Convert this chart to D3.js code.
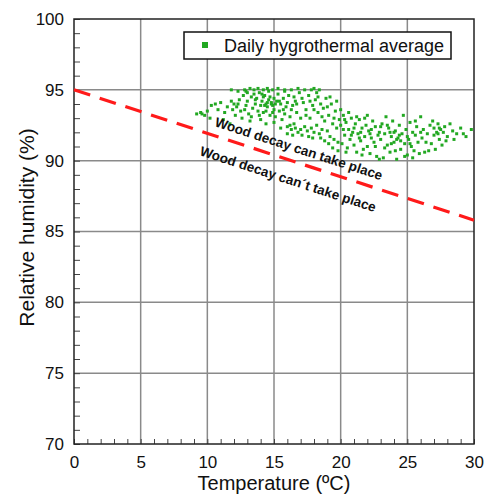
<!DOCTYPE html>
<html>
<head>
<meta charset="utf-8">
<script src="https://cdn.jsdelivr.net/npm/d3@7"></script>
<style>
html,body{margin:0;padding:0;background:#fff;}
svg{display:block;font-family:"Liberation Sans",Arial,sans-serif;}
</style>
</head>
<body>
<svg id="chart" width="484" height="495"></svg>
<script>
const xTicks = [0, 5, 10, 15, 20, 25, 30];
const yTicks = [70, 75, 80, 85, 90, 95, 100];
const xMinor = d3.range(0, 31, 1);
const yMinor = d3.range(70, 101, 1);
const thresholdLine = [[0, 95], [30, 85.8]];
const legendLabel = "Daily hygrothermal average";
const labelAbove = "Wood decay can take place";
const labelBelow = "Wood decay can´t take place";
const labelAbovePos = [10.5, 92.45];
const labelBelowPos = [9.37, 90.4];
const xTitle = "Temperature (ºC)";
const yTitle = "Relative humidity (%)";

const dailyTemp = [
9.2,9.5,9.8,10.0,10.3,10.6,10.2,9.6,
10.8,11.0,11.3,11.5,11.8,11.9,11.2,12.0,11.7,
12.8,13.2,13.5,13.8,14.2,14.5,14.9,15.3,15.8,16.3,16.8,17.3,18.0,18.4,11.8,12.3,
12.2,12.4,12.5,12.7,12.9,13.0,13.1,13.3,13.4,13.6,13.7,13.8,13.9,14.0,14.1,14.2,14.3,14.4,14.5,14.6,14.7,14.8,14.9,15.0,15.0,14.6,13.5,12.6,13.2,14.0,14.4,15.0,12.9,14.2,14.8,14.5,14.3,15.1,15.2,
15.3,15.4,15.5,15.6,15.7,15.8,15.9,16.0,16.1,16.2,16.3,16.4,16.5,16.6,16.7,16.8,16.9,17.0,15.5,16.0,16.2,16.6,17.0,15.8,16.5,
17.2,17.3,17.4,17.5,17.6,17.7,17.8,17.9,18.0,18.1,18.2,18.3,18.4,18.5,18.6,18.7,18.8,18.9,19.0,19.1,19.2,19.3,19.4,19.5,19.6,19.7,19.8,19.9,17.1,17.9,18.8,19.4,19.8,18.2,17.8,
20.0,20.1,20.2,20.3,20.4,20.5,20.6,20.7,20.8,20.9,21.0,21.1,21.2,21.3,21.4,21.5,21.6,21.7,21.8,21.9,22.0,22.1,22.2,22.3,22.4,22.5,22.6,22.7,22.8,22.9,20.3,21.2,22.0,20.8,21.5,22.3,
23.0,23.1,23.2,23.3,23.4,23.5,23.6,23.7,23.8,23.9,24.0,24.1,24.2,24.3,24.4,24.5,24.6,24.7,24.8,24.9,25.0,25.1,25.2,25.3,25.4,25.5,25.6,25.7,25.8,25.9,23.5,24.0,24.5,25.0,24.2,23.8,
26.0,26.1,26.2,26.3,26.5,26.7,26.8,27.0,27.1,27.2,27.3,27.4,27.5,27.6,27.7,27.8,28.0,28.2,28.5,28.7,29.0,29.4,29.8,27.0,27.3,26.6,
12.1,12.3,12.8,13.0,13.3,13.6,13.9,14.1,14.4,14.7,14.9,15.1,15.4,15.7,16.0,16.3,16.7,17.1,17.4,17.7,18.0,18.3,18.6,19.0,19.2,19.5,19.7,20.0,20.2,20.6,21.0,21.4,21.8,22.2,22.6,23.0,23.3,23.7,24.1,24.4,24.8,25.2,25.6,26.0,26.4,26.9,27.4,27.9,28.4,29.2,16.4,17.6,18.5,19.1,20.4,21.6,22.9,25.4
];
const dailyRH = [
93.3,93.4,93.2,93.5,93.9,94.0,93.0,93.3,
93.6,94.1,93.4,93.8,94.2,93.6,92.9,94.0,92.6,
95.0,95.1,95.0,95.1,95.0,95.1,95.0,95.1,95.0,95.0,95.1,95.0,95.1,95.0,95.0,94.9,
93.8,94.3,93.5,94.6,93.9,94.2,93.3,94.5,93.7,94.0,94.4,93.5,94.8,93.9,94.2,93.4,94.6,94.0,93.8,94.3,93.2,94.1,93.9,94.4,93.6,94.9,94.7,93.0,92.8,92.9,92.6,92.7,94.9,94.5,94.0,94.1,93.9,94.0,94.2,
94.7,93.5,94.0,92.9,94.4,93.3,93.8,92.4,94.6,93.1,92.2,93.9,92.6,94.2,93.4,92.0,94.8,93.0,92.3,91.9,92.5,92.3,92.2,94.9,94.5,
94.1,92.4,93.6,92.1,94.6,93.0,92.3,93.9,92.0,94.3,92.5,93.4,91.9,94.0,92.2,93.7,92.8,94.4,92.1,93.2,91.7,94.0,92.6,91.5,93.5,92.3,91.3,92.9,91.8,91.6,91.4,90.9,90.7,94.8,95.0,
92.5,91.2,93.2,91.8,92.7,90.9,92.2,91.5,93.0,92.0,91.1,92.6,90.6,91.9,92.9,91.4,92.3,90.8,91.7,92.5,91.0,92.1,90.5,91.6,92.8,91.3,92.4,90.3,91.8,92.0,92.9,93.1,93.2,91.8,92.0,92.2,
91.5,92.6,90.2,91.9,93.1,91.1,92.3,90.6,91.7,92.8,91.3,92.1,90.1,91.6,92.5,90.8,91.9,93.2,91.2,92.2,90.4,91.5,92.7,91.0,92.0,90.7,91.8,92.4,91.3,90.5,92.5,92.0,91.4,91.7,91.5,91.2,
93.1,91.6,92.2,90.6,91.9,92.5,91.2,92.3,90.8,92.0,92.6,91.5,92.2,91.1,92.0,92.4,91.7,92.6,91.5,91.9,92.3,91.7,92.2,91.8,91.9,90.7,
93.2,94.0,93.6,94.8,93.1,94.3,93.2,94.7,93.5,94.5,93.4,93.1,94.2,93.6,94.1,93.6,94.0,94.4,93.2,94.2,93.6,94.5,93.1,93.8,94.5,93.0,94.2,93.6,92.2,93.4,92.3,91.6,93.0,91.9,91.0,92.4,90.9,92.0,90.7,91.8,90.3,91.2,92.8,92.0,91.3,92.8,92.3,91.4,92.1,91.9,91.8,91.7,91.6,91.2,90.6,90.4,90.1,90.2
];

const W = 484, H = 495;
const m = {left: 74, right: 474, top: 19, bottom: 444};
const x = d3.scaleLinear().domain([0, 30]).range([m.left, m.right]);
const y = d3.scaleLinear().domain([70, 100]).range([m.bottom, m.top]);
const svg = d3.select("#chart");

svg.append("rect").attr("width", W).attr("height", H).attr("fill", "#fff");

// grid
const grid = svg.append("g");
grid.selectAll(".gx").data(xTicks.slice(1, -1)).join("line")
  .attr("x1", d => x(d)).attr("x2", d => x(d))
  .attr("y1", m.top).attr("y2", m.bottom)
  .attr("stroke", "#8a8a8a").attr("stroke-width", 1.5);
grid.selectAll(".gy").data(yTicks.slice(1, -1)).join("line")
  .attr("y1", d => y(d)).attr("y2", d => y(d))
  .attr("x1", m.left).attr("x2", m.right)
  .attr("stroke", "#8a8a8a").attr("stroke-width", 1.5);

// minor ticks
const minorX = d3.axisBottom(x).tickValues(xMinor).tickSize(-5).tickFormat("");
const gmx = svg.append("g").attr("transform", `translate(0,${m.bottom})`).call(minorX);
gmx.select(".domain").remove();
gmx.selectAll("line").attr("stroke", "#444").attr("stroke-width", 1);
const minorY = d3.axisLeft(y).tickValues(yMinor).tickSize(-6).tickFormat("");
const gmy = svg.append("g").attr("transform", `translate(${m.left},0)`).call(minorY);
gmy.select(".domain").remove();
gmy.selectAll("line").attr("stroke", "#444").attr("stroke-width", 1);

// tick labels
const ax = d3.axisBottom(x).tickValues(xTicks).tickSize(0).tickPadding(12).tickFormat(d3.format("d"));
const gax = svg.append("g").attr("transform", `translate(0,${m.bottom})`).call(ax);
gax.select(".domain").remove();
gax.selectAll("text").attr("font-size", 17).attr("fill", "#111").attr("font-family", "Liberation Sans, Arial, sans-serif");
const ay = d3.axisLeft(y).tickValues(yTicks).tickSize(0).tickPadding(10).tickFormat(d3.format("d"));
const gay = svg.append("g").attr("transform", `translate(${m.left},0)`).call(ay);
gay.select(".domain").remove();
gay.selectAll("text").attr("font-size", 17).attr("fill", "#111").attr("font-family", "Liberation Sans, Arial, sans-serif");

// frame
svg.append("rect").attr("x", m.left).attr("y", m.top)
  .attr("width", m.right - m.left).attr("height", m.bottom - m.top)
  .attr("fill", "none").attr("stroke", "#222").attr("stroke-width", 1.5);

// points
const pts = dailyTemp.map((t, i) => [t, dailyRH[i]]);
svg.append("g").selectAll("rect").data(pts).join("rect")
  .attr("x", d => x(d[0]) - 1.5).attr("y", d => y(d[1]) - 1.5)
  .attr("width", 3).attr("height", 3).attr("fill", "#22a822");

// threshold line
svg.append("path").datum(thresholdLine)
  .attr("d", d3.line().x(d => x(d[0])).y(d => y(d[1])))
  .attr("fill", "none").attr("stroke", "#ff1a1a").attr("stroke-width", 3.2)
  .attr("stroke-dasharray", "17,10");

// annotations
const angle = Math.atan2(y(thresholdLine[1][1]) - y(thresholdLine[0][1]), x(thresholdLine[1][0]) - x(thresholdLine[0][0])) * 180 / Math.PI;
[[labelAbove, labelAbovePos], [labelBelow, labelBelowPos]].forEach(([txt, p]) => {
  svg.append("text").attr("transform", `translate(${x(p[0])},${y(p[1])}) rotate(${angle})`)
    .attr("font-size", 13.5).attr("font-weight", "bold").attr("fill", "#111").text(txt);
});

// legend
const lg = svg.append("g");
lg.append("rect").attr("x", 184).attr("y", 32).attr("width", 267).attr("height", 27)
  .attr("fill", "#fff").attr("stroke", "#111").attr("stroke-width", 1.5);
lg.append("rect").attr("x", 202).attr("y", 42).attr("width", 6).attr("height", 6).attr("fill", "#22a822");
lg.append("text").attr("x", 224).attr("y", 52).attr("font-size", 18).attr("fill", "#111").text(legendLabel);

// axis titles
svg.append("text").attr("x", (m.left + m.right) / 2).attr("y", 490).attr("text-anchor", "middle")
  .attr("font-size", 20).attr("fill", "#111").text(xTitle);
svg.append("text").attr("transform", `translate(34,${(m.top + m.bottom) / 2 - 4}) rotate(-90)`)
  .attr("text-anchor", "middle").attr("font-size", 21).attr("fill", "#111").text(yTitle);
</script>
</body>
</html>
